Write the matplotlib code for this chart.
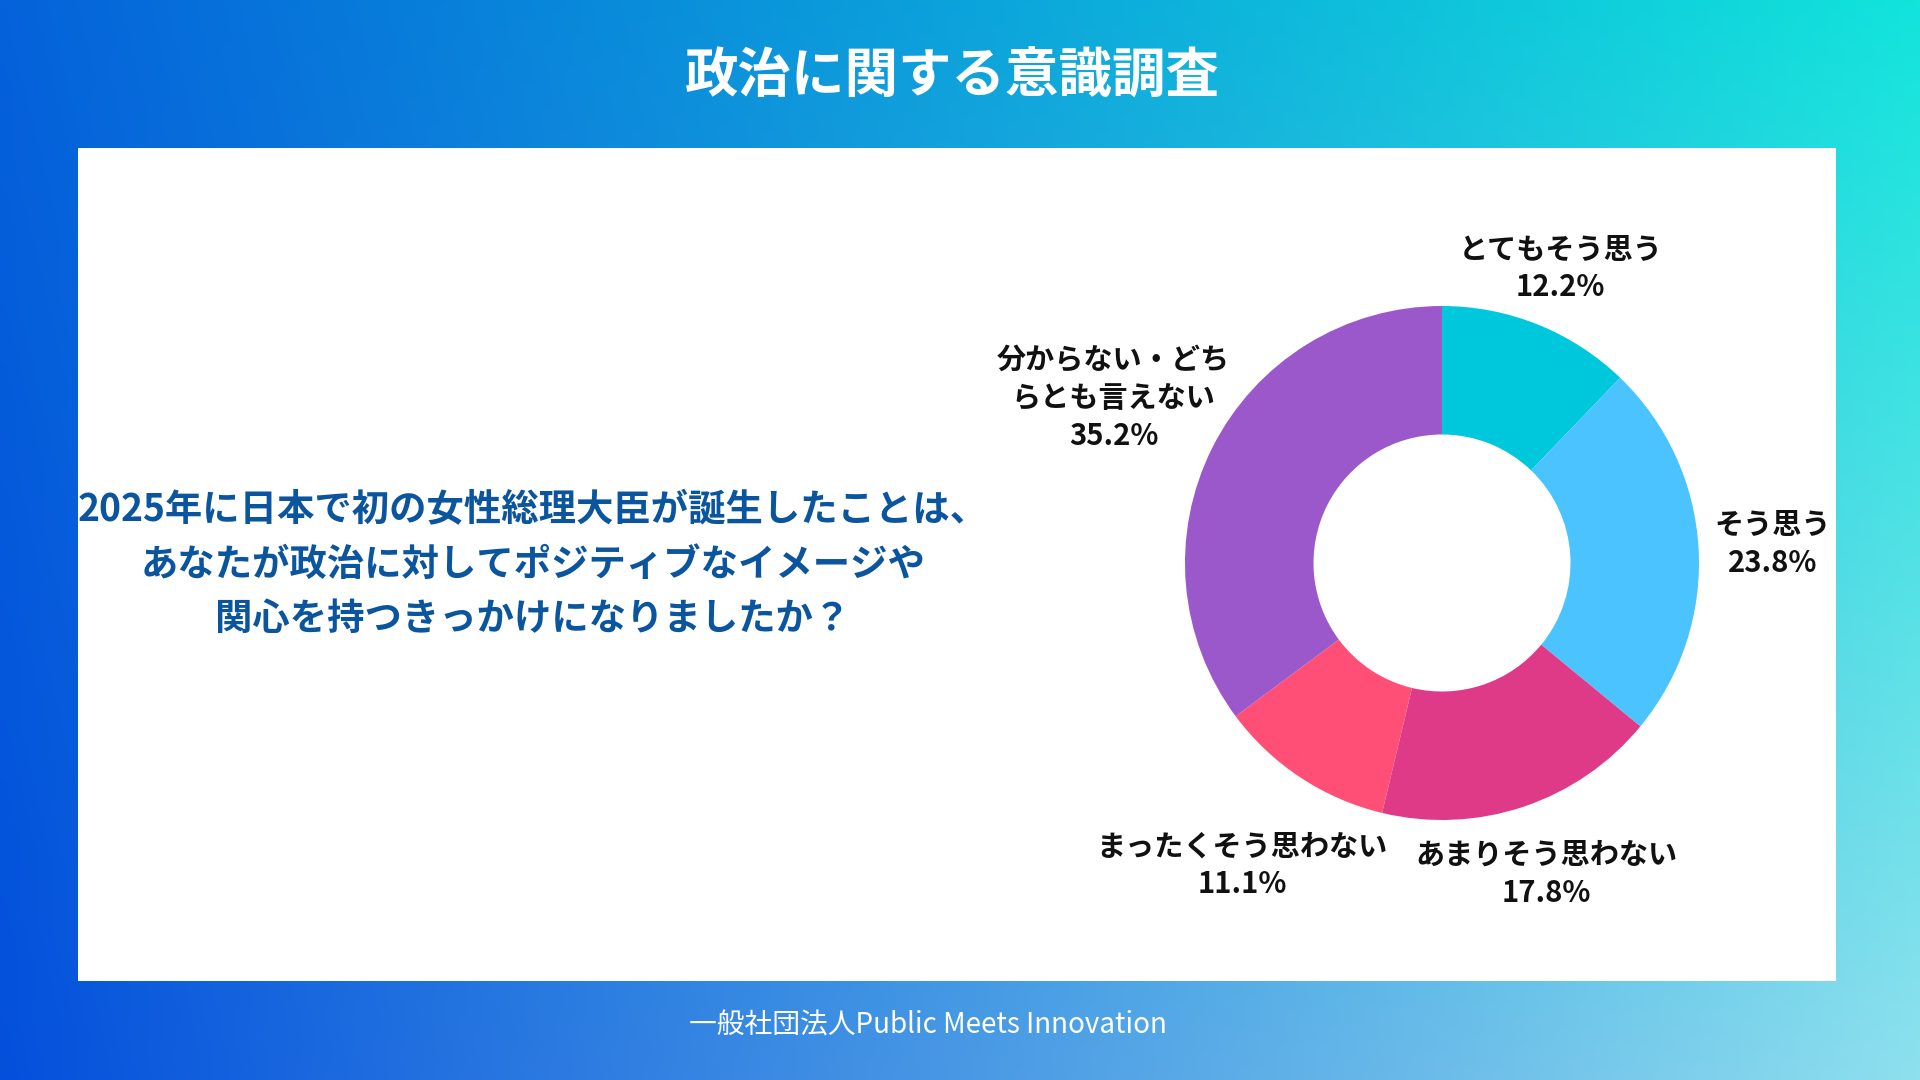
import numpy as np
import matplotlib
matplotlib.use('Agg')
import matplotlib.pyplot as plt
from matplotlib.patches import Rectangle

plt.rcParams['font.family'] = ['Noto Sans CJK JP', 'DejaVu Sans']

# Data
categories = ['とてもそう思う', 'そう思う', 'あまりそう思わない',
              'まったくそう思わない', '分からない・どち\nらとも言えない']
values = [12.2, 23.8, 17.8, 11.1, 35.2]
colors = ['#00C8DC', '#4BC3FE', '#DE3A87', '#FF4F76', '#9B58CB']
label_dist = [1.235, 1.29, 1.275, 1.41, 1.43]

title = '政治に関する意識調査'
question = ('2025年に日本で初の女性総理大臣が誕生したことは、\n'
            'あなたが政治に対してポジティブなイメージや\n'
            '関心を持つきっかけになりましたか？')
footer = '一般社団法人Public Meets Innovation'

W, H = 1920, 1080
fig = plt.figure(figsize=(19.2, 10.8), dpi=100)

# Background gradient (corners: TL, TR, BL, BR)
tl = np.array([5, 98, 218]) / 255
tr = np.array([18, 228, 220]) / 255
bl = np.array([4, 80, 220]) / 255
br = np.array([142, 224, 238]) / 255
u = np.linspace(0, 1, 192)[None, :, None]
v = np.linspace(0, 1, 108)[:, None, None]
grad = (1 - v) * ((1 - u) * tl + u * tr) + v * ((1 - u) * bl + u * br)

bg = fig.add_axes([0, 0, 1, 1])
bg.imshow(grad, extent=(0, W, H, 0), aspect='auto', interpolation='bilinear')
bg.set_xlim(0, W)
bg.set_ylim(H, 0)
bg.axis('off')

ax = fig.add_axes([0, 0, 1, 1])
ax.patch.set_alpha(0)

# white panel
ax.add_patch(Rectangle((78, H - 981), 1836 - 78, 981 - 148,
                       facecolor='white', edgecolor='none', zorder=0))

# donut
cx, cy, R = 1442, H - 563, 257
wedges, _ = ax.pie(values, colors=colors, startangle=90, counterclock=False,
                   center=(cx, cy), radius=R,
                   wedgeprops=dict(width=R * 0.5, linewidth=0))
for w, cat, val, d in zip(wedges, categories, values, label_dist):
    ang = np.deg2rad((w.theta1 + w.theta2) / 2)
    ax.text(cx + d * R * np.cos(ang), cy + d * R * np.sin(ang),
            f'{cat}\n{val}%', ha='center', va='center', fontsize=21,
            fontweight='bold', color='#111111', linespacing=1.32,
            multialignment='center')

ax.set_xlim(0, W)
ax.set_ylim(0, H)
ax.set_aspect('auto')
ax.axis('off')

ax.text(952, H - 77, title, ha='center', va='center', fontsize=38.5,
        fontweight='bold', color='white')
ax.text(533, H - 564, question, ha='center', va='center', fontsize=26.9,
        fontweight='bold', color='#0B559F', linespacing=1.5,
        multialignment='center')
ax.text(928, H - 1026, footer, ha='center', va='center', fontsize=20,
        color='white')

fig.savefig('out.png', dpi=100)
